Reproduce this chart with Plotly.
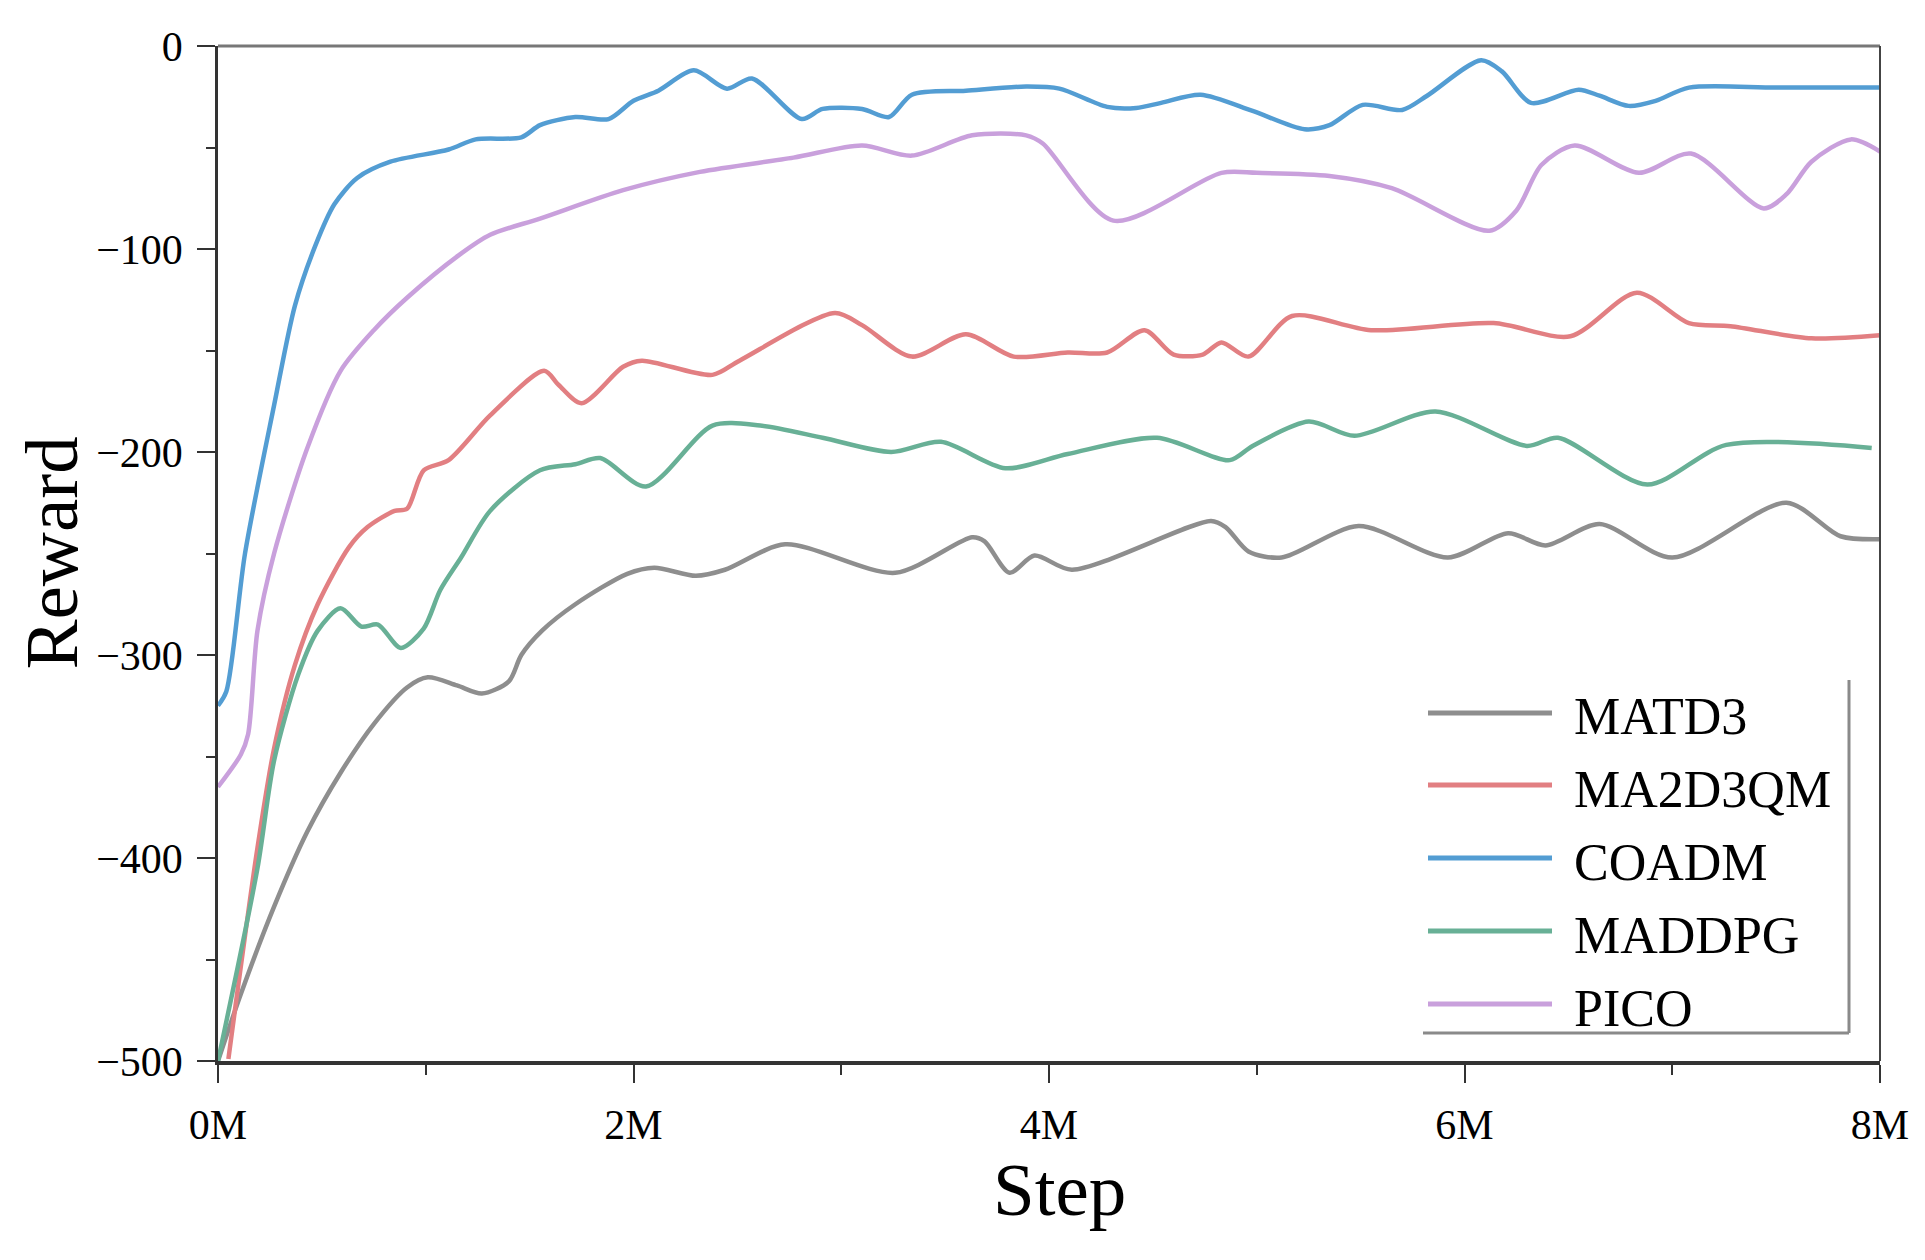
import plotly.graph_objects as go

# ---------------- data ----------------
series_names = ["MATD3", "MA2D3QM", "COADM", "MADDPG", "PICO"]
series_colors = ["#8e8e8e", "#e27f82", "#539dd3", "#68b096", "#c9a0dc"]

matd3_x = [0, 0.11, 0.27, 0.43, 0.59, 0.75, 0.91, 1.01, 1.15, 1.27, 1.40, 1.46, 1.56, 1.72, 1.97,
           2.10, 2.30, 2.44, 2.73, 3.26, 3.63, 3.69, 3.81, 3.93, 4.11, 4.78, 4.85, 4.96, 5.12,
           5.49, 5.92, 6.21, 6.39, 6.65, 7.00, 7.55, 7.81, 8.0]
matd3_y = [-500, -467, -424, -387, -358, -334, -316, -311, -315, -319, -313, -300, -288, -275, -260,
           -257, -261, -258, -245.5, -259.5, -242, -244, -259.5, -251, -258, -234, -237, -249, -252,
           -236.5, -252, -240, -246, -235.5, -252, -225, -241.5, -243]

ma2d3qm_x = [0.05, 0.19, 0.27, 0.37, 0.48, 0.63, 0.72, 0.85, 0.91, 0.99, 1.11, 1.31, 1.57, 1.64,
             1.75, 1.95, 2.04, 2.38, 2.51, 2.97, 3.10, 3.34, 3.60, 3.83, 4.09, 4.28, 4.46, 4.60,
             4.74, 4.83, 4.96, 5.17, 5.55, 6.14, 6.51, 6.83, 7.08, 7.28, 7.67, 8.0]
ma2d3qm_y = [-499, -395, -346, -305, -275, -247, -237, -229, -228, -209, -204, -182, -160, -167,
             -176, -158, -155, -162, -155, -131.5, -137.5, -153, -142, -153, -151, -151, -140, -152,
             -152, -146, -153, -133, -140, -136.5, -143, -121.5, -136.5, -138, -144, -142.5]

coadm_x = [0, 0.04, 0.13, 0.27, 0.37, 0.47, 0.56, 0.67, 0.83, 1.11, 1.24, 1.46, 1.55, 1.72, 1.88,
           2.0, 2.12, 2.29, 2.45, 2.57, 2.81, 2.91, 3.10, 3.23, 3.34, 3.60, 3.89, 4.05, 4.28, 4.42,
           4.54, 4.73, 4.98, 5.23, 5.35, 5.51, 5.70, 5.82, 6.08, 6.18, 6.32, 6.55, 6.65, 6.79,
           6.92, 7.08, 7.5, 8.0]
coadm_y = [-325, -318, -250, -177, -128, -98, -78, -65, -57, -51, -46, -45, -39, -35, -36,
           -27, -22, -12, -21, -16, -36, -31, -31, -35, -24, -22, -20, -21, -30, -30.5,
           -28, -24, -32, -41, -39, -29, -31.5, -24.5, -7, -12.5, -28, -21.5, -24.5, -29.5,
           -27, -20.5, -20.5, -20.5]

maddpg_x = [0, 0.19, 0.27, 0.385, 0.48, 0.59, 0.69, 0.77, 0.88, 0.99, 1.07, 1.17, 1.31, 1.55,
            1.72, 1.84, 2.06, 2.38, 2.61, 2.91, 3.24, 3.48, 3.79, 4.09, 4.52, 4.87, 4.98, 5.25,
            5.47, 5.86, 6.30, 6.45, 6.88, 7.26, 7.96]
maddpg_y = [-500, -405, -352, -310, -288, -277, -286, -285, -296.5, -287, -268, -252, -229, -209,
            -206, -203, -217, -187, -187, -193, -200, -195, -208, -201, -193, -204, -197, -185,
            -192, -180, -197, -193, -216, -196.5, -198]

pico_x = [0, 0.11, 0.145, 0.19, 0.27, 0.43, 0.59, 0.75, 0.91, 1.16, 1.31, 1.55, 1.95, 2.32, 2.77,
          3.10, 3.34, 3.63, 3.89, 3.97, 4.31, 4.83, 5.0, 5.35, 5.65, 6.12, 6.25, 6.37, 6.53, 6.84,
          7.09, 7.44, 7.55, 7.67, 7.86, 8.0]
pico_y = [-365, -349, -339, -288, -250, -198, -160, -140, -124, -103, -93, -85, -71, -62, -55,
          -49, -54, -44, -44, -48, -86, -62.5, -62.5, -64, -70, -91, -81, -58.6, -49, -62.5,
          -53, -80, -73, -57, -46, -52]

x_tick_vals = [0, 2, 4, 6, 8]
x_tick_text = ["0M", "2M", "4M", "6M", "8M"]
y_tick_vals = [-500, -400, -300, -200, -100, 0]

xs = [matd3_x, ma2d3qm_x, coadm_x, maddpg_x, pico_x]
ys = [matd3_y, ma2d3qm_y, coadm_y, maddpg_y, pico_y]

# ---------------- layout constants (pixels) ----------------
W, H = 1925, 1260
L, R, T, B = 210, 1872, 38, 1053
PW, PH = R - L, B - T
FONT = "Liberation Serif, Times New Roman, serif"


def px(xp):
    return (xp - L) / PW


def py(yp):
    return (B - yp) / PH


fig = go.Figure()
for name, color, x, y in zip(series_names, series_colors, xs, ys):
    fig.add_trace(go.Scatter(x=x, y=y, mode="lines", name=name,
                             line=dict(color=color, width=4.5, shape="spline", smoothing=0.8),
                             showlegend=False))

axis_col = "#333333"
fig.update_layout(
    width=W, height=H,
    margin=dict(l=L, r=W - R, t=T, b=H - B, pad=0),
    paper_bgcolor="white", plot_bgcolor="white",
    font=dict(family=FONT, color="black", size=42),
    xaxis=dict(range=[0, 8], tickmode="array", tickvals=x_tick_vals, ticktext=x_tick_text,
               ticks="outside", ticklen=18, tickwidth=2, tickcolor=axis_col,
               showline=True, linecolor=axis_col, linewidth=4, showgrid=False, zeroline=False,
               tickfont=dict(size=42, family=FONT), ticklabelstandoff=6,
               minor=dict(tickmode="array", tickvals=[1, 3, 5, 7], ticks="outside",
                          ticklen=10, tickwidth=2, tickcolor=axis_col, showgrid=False),
               automargin=False),
    yaxis=dict(range=[-500, 0], tickmode="array", tickvals=y_tick_vals,
               ticks="outside", ticklen=18, tickwidth=2, tickcolor=axis_col,
               showline=True, linecolor=axis_col, linewidth=2.5, showgrid=False, zeroline=False,
               tickfont=dict(size=42, family=FONT), ticklabelstandoff=6,
               minor=dict(tickmode="linear", tick0=0, dtick=50, ticks="outside",
                          ticklen=9, tickwidth=2, tickcolor=axis_col, showgrid=False),
               automargin=False),
)

shapes = [
    # top and right frame lines
    dict(type="line", xref="paper", yref="paper", x0=0, x1=1, y0=1, y1=1,
         line=dict(color="#777777", width=3)),
    dict(type="line", xref="paper", yref="paper", x0=1, x1=1, y0=0, y1=1,
         line=dict(color="#444444", width=2)),
    # legend box (right + bottom edges)
    dict(type="line", xref="paper", yref="paper", x0=px(1841), x1=px(1841), y0=py(672), y1=py(1025),
         line=dict(color="#8a8a8a", width=3)),
    dict(type="line", xref="paper", yref="paper", x0=px(1415), x1=px(1841), y0=py(1025), y1=py(1025),
         line=dict(color="#8a8a8a", width=3)),
]

annotations = [
    dict(text="Step", xref="paper", yref="paper", x=0.5, y=0, xshift=10, yshift=-(1138 - B),
         xanchor="center", yanchor="top", showarrow=False, font=dict(size=75, family=FONT)),
    dict(text="Reward", xref="paper", yref="paper", x=0, y=0.5, xshift=43 - L, textangle=-90,
         xanchor="center", yanchor="middle", showarrow=False, font=dict(size=75, family=FONT)),
]

row_y = [705, 777, 850, 923, 996]
for name, color, ry in zip(series_names, series_colors, row_y):
    shapes.append(dict(type="line", xref="paper", yref="paper", x0=px(1420), x1=px(1544),
                       y0=py(ry), y1=py(ry), line=dict(color=color, width=5)))
    annotations.append(dict(text=name, xref="paper", yref="paper", x=px(1564), y=py(ry + 4),
                            xanchor="left", yanchor="middle", showarrow=False,
                            font=dict(size=52, family=FONT)))

fig.update_layout(shapes=shapes, annotations=annotations)
fig.write_html("out.html")
